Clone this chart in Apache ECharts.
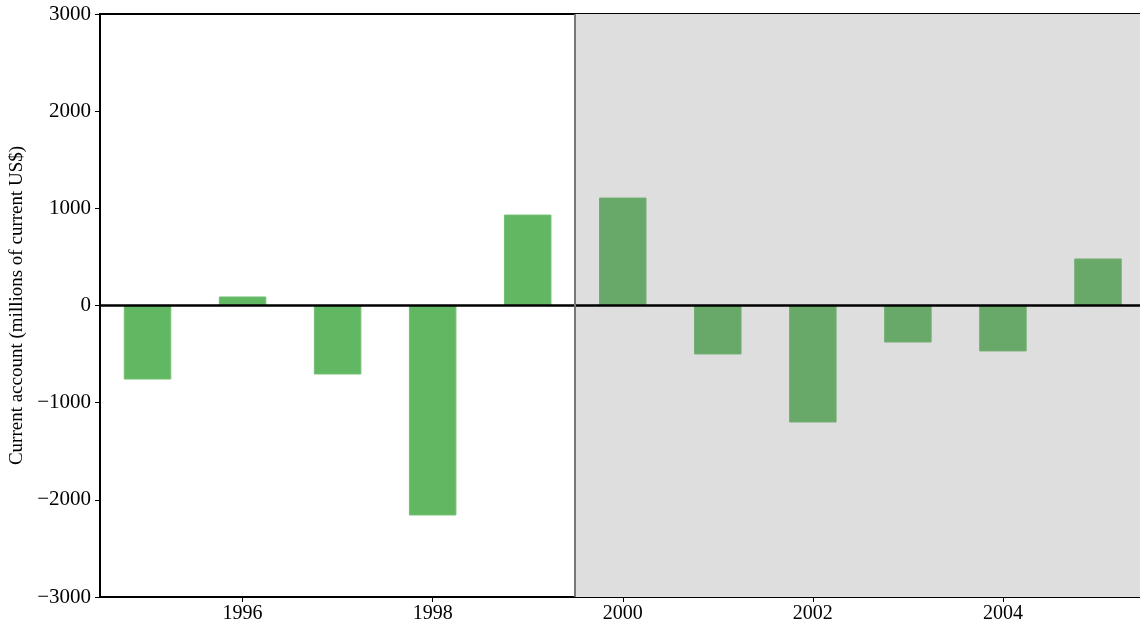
<!DOCTYPE html>
<html><head><meta charset="utf-8">
<script src="https://cdn.jsdelivr.net/npm/echarts@6/dist/echarts.min.js"></script>
<style>html,body{margin:0;padding:0;background:#fff}#c{width:1140px;height:631px}</style>
</head><body><div id="c"></div>
<script>
const years = [1995, 1996, 1997, 1998, 1999, 2000, 2001, 2002, 2003, 2004, 2005];
const currentAccount = [-762, 93, -710, -2161, 936, 1111, -504, -1204, -381, -473, 484];
const xTicks = [1996, 1998, 2000, 2002, 2004];
const yTicks = [-3000, -2000, -1000, 0, 1000, 2000, 3000];
const dollarizationStart = 1999.5;
const dollarizationLabel = 'Dollarization';
const yTitle = 'Current account (millions of current US$)';

const font = 'Liberation Serif, Times New Roman, serif';
const chart = echarts.init(document.getElementById('c'));
chart.setOption({
  animation: false,
  grid: { left: 100, top: 14, width: 1045.5, bottom: 34, outerBoundsMode: 'none', containLabel: false, show: true, borderColor: '#000', borderWidth: 2, backgroundColor: 'transparent' },
  xAxis: {
    type: 'value', min: 1994.5, max: 2005.5,
    axisLine: { onZero: false, lineStyle: { color: '#000', width: 2 } },
    axisTick: { show: true, customValues: xTicks, length: 5, lineStyle: { color: '#000' } },
    axisLabel: { customValues: xTicks, color: '#000', fontFamily: font, fontSize: 20, margin: 7, formatter: v => String(v) },
    splitLine: { show: false }
  },
  yAxis: {
    type: 'value', min: -3000, max: 3000, interval: 1000,
    name: yTitle, nameLocation: 'middle', nameGap: 71, nameRotate: 90,
    nameTextStyle: { color: '#000', fontFamily: font, fontSize: 19 },
    axisLine: { lineStyle: { color: '#000', width: 2 } },
    axisTick: { show: true, customValues: yTicks, length: 5, lineStyle: { color: '#000' } },
    axisLabel: { customValues: yTicks, color: '#000', fontFamily: font, fontSize: 21, margin: 9, formatter: v => String(v).replace('-', '\u2212') },
    splitLine: { show: false }
  },
  series: [{
    type: 'bar',
    barWidth: 47.5,
    data: years.map((y, i) => ({
      value: [y, currentAccount[i]],
      itemStyle: { color: y > dollarizationStart ? '#68a868' : '#62b862', borderColor: y > dollarizationStart ? '#74ae74' : '#72c072', borderWidth: 1 }
    })),
    markArea: {
      silent: true,
      itemStyle: { color: '#dedede' },
      data: [[{ xAxis: dollarizationStart }, { xAxis: 2005.5 }]]
    },
    markLine: {
      silent: true, symbol: 'none', label: { show: false },
      data: [
        { yAxis: 0, lineStyle: { color: '#000', width: 2.5, type: 'solid' } },
        { xAxis: dollarizationStart, lineStyle: { color: '#777', width: 2, type: 'solid' } }
      ]
    }
  }],
  graphic: [{
    type: 'text', left: 600, top: 38,
    style: { text: dollarizationLabel, fill: '#000', font: '17px ' + font }
  }]
});
</script></body></html>
